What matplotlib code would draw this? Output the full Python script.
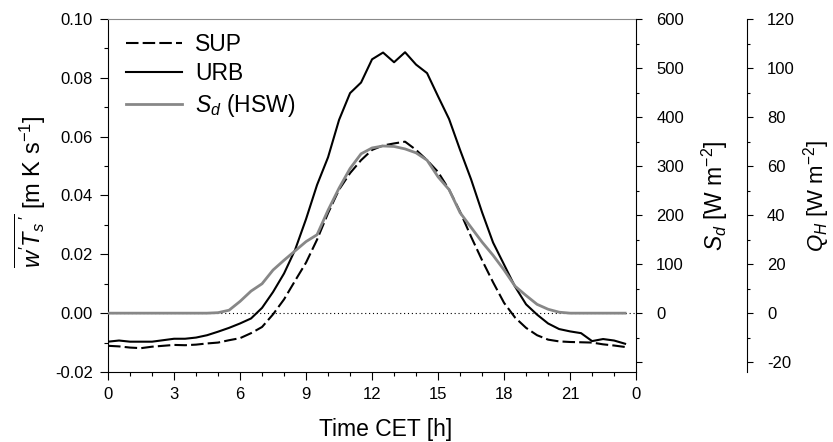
import numpy as np
import matplotlib.pyplot as plt
from matplotlib.ticker import MultipleLocator

plt.rcParams['font.family'] = 'Liberation Sans'
plt.rcParams['mathtext.fontset'] = 'custom'
plt.rcParams['mathtext.rm'] = 'Liberation Sans'
plt.rcParams['mathtext.it'] = 'Liberation Sans:italic'
plt.rcParams['axes.unicode_minus'] = False

# half-hourly diurnal means, 0.0 ... 23.5 h CET
hours = np.arange(48) * 0.5

sup = [-0.0111, -0.0113, -0.0117, -0.0119, -0.0114, -0.0111, -0.0108, -0.0109,
       -0.0107, -0.0103, -0.0100, -0.0092, -0.0085, -0.0068, -0.0047, -0.0004,
       0.0047, 0.0110, 0.0172, 0.0250, 0.0340, 0.0420, 0.0476, 0.0520,
       0.0555, 0.0570, 0.0577, 0.0583, 0.0555, 0.0520, 0.0480, 0.0420,
       0.0345, 0.0260, 0.0180, 0.0105, 0.0035, -0.0015, -0.0050, -0.0075,
       -0.0090, -0.0096, -0.0098, -0.0099, -0.0100, -0.0106, -0.0110, -0.0115]

urb = [-0.0097, -0.0093, -0.0097, -0.0097, -0.0097, -0.0092, -0.0087, -0.0087,
       -0.0083, -0.0075, -0.0063, -0.0050, -0.0035, -0.0018, 0.0018, 0.0072,
       0.0135, 0.0215, 0.0320, 0.0436, 0.0530, 0.0657, 0.0748, 0.0784,
       0.0863, 0.0886, 0.0853, 0.0887, 0.0845, 0.0816, 0.0737, 0.0660,
       0.0555, 0.0455, 0.0343, 0.0240, 0.0165, 0.0090, 0.0030, -0.0005,
       -0.0035, -0.0054, -0.0062, -0.0068, -0.0095, -0.0088, -0.0093, -0.0104]

sd = [0, 0, 0, 0, 0, 0, 0, 0,
      0, 0, 1, 6, 24, 45, 60, 88,
      108, 127, 146, 160, 210, 255, 295, 325,
      337, 341, 340, 335, 327, 312, 278, 252,
      205, 175, 145, 118, 88, 55, 36, 18,
      8, 2, 0, 0, 0, 0, 0, 0]

x_ticks = [0, 3, 6, 9, 12, 15, 18, 21, 24]
x_ticklabels = ["0", "3", "6", "9", "12", "15", "18", "21", "0"]
left_ticks = [-0.02, 0.00, 0.02, 0.04, 0.06, 0.08, 0.10]
sd_ticks = [-100, 0, 100, 200, 300, 400, 500, 600]
sd_ticklabels = ["", "0", "100", "200", "300", "400", "500", "600"]
qh_ticks = [-20, 0, 20, 40, 60, 80, 100, 120]

fig = plt.figure(figsize=(8.33, 4.42), dpi=100)
ax = fig.add_axes([0.1297, 0.1584, 0.6339, 0.7986])
ax2 = ax.twinx()
ax3 = ax.twinx()
ax3.spines['right'].set_position(('axes', 1.21))

ax.axhline(0, color='k', lw=0.8, ls=(0, (1, 2.5)), zorder=1)
l1, = ax.plot(hours, sup, color='k', lw=1.5, dashes=(6, 2), label='SUP')
l2, = ax.plot(hours, urb, color='k', lw=1.5, label='URB')
l3, = ax2.plot(hours, sd, color='#878787', lw=2.0, label='$S_d$ (HSW)')

ax.set_xlim(0, 24)
ax.set_xticks(x_ticks)
ax.set_xticklabels(x_ticklabels)
ax.xaxis.set_minor_locator(MultipleLocator(1))
ax.set_ylim(-0.02, 0.10)
ax.set_yticks(left_ticks)
ax.set_yticklabels(["%.2f" % v for v in left_ticks])
ax.yaxis.set_minor_locator(MultipleLocator(0.01))

ax2.set_ylim(-120, 600)
ax2.set_yticks(sd_ticks)
ax2.set_yticklabels(sd_ticklabels)
ax2.yaxis.set_minor_locator(MultipleLocator(50))

ax3.set_ylim(-24, 120)
ax3.set_yticks(qh_ticks)
ax3.set_yticklabels([str(v) for v in qh_ticks])
ax3.yaxis.set_minor_locator(MultipleLocator(10))

for a in (ax, ax2, ax3):
    a.tick_params(which='major', direction='out', length=6, width=0.8,
                  labelsize=12, pad=5)
    a.tick_params(which='minor', direction='out', length=3, width=0.8)
for a in (ax2, ax3):
    a.tick_params(which='major', length=4.5, pad=10)
    a.tick_params(which='minor', length=2.5)

ax.spines['top'].set_color('#8a8a8a')
ax.spines['right'].set_visible(False)
for a in (ax2, ax3):
    a.spines['top'].set_visible(False)
    a.spines['left'].set_visible(False)
    a.spines['bottom'].set_visible(False)

ax.set_xlabel('Time CET [h]', fontsize=16.5)
ax.set_ylabel(r"$\overline{w'T_s\,'}$ [m K s$^{-1}$]", fontsize=17)
ax2.set_ylabel('$S_d$ [W m$^{-2}$]', fontsize=16.5)
ax3.set_ylabel('$Q_H$ [W m$^{-2}$]', fontsize=16)
ax.xaxis.set_label_coords(0.5265, -0.13)
ax.yaxis.set_label_coords(-0.1136, 0.51)
ax2.yaxis.set_label_coords(1.12, 0.5)
ax3.yaxis.set_label_coords(1.312, 0.5)

ax.legend([l1, l2, l3], ['SUP', 'URB', '$S_d$ (HSW)'], loc='upper left',
          bbox_to_anchor=(-0.005, 1.02), frameon=False, fontsize=16.5,
          handlelength=2.45, handletextpad=0.57, labelspacing=0.3)

fig.savefig('out.png', dpi=100)
